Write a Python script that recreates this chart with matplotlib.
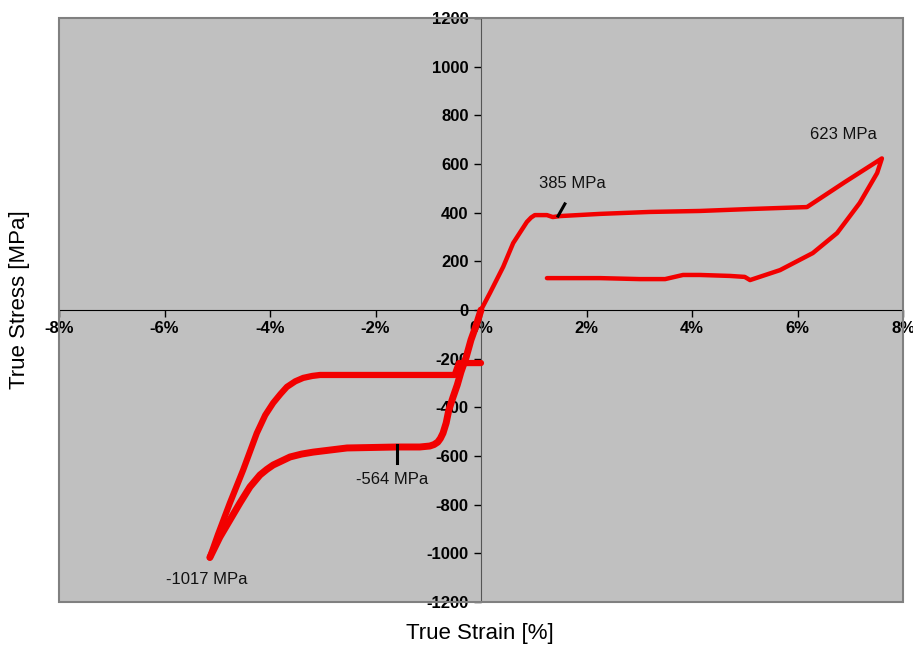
import matplotlib
matplotlib.use('Agg')
import matplotlib.pyplot as plt
from matplotlib.patches import Rectangle
from matplotlib.ticker import FuncFormatter

# tension test: loading, then unloading / recovery (strain %, stress MPa)
tension_strain = [0.0, 0.17, 0.42, 0.61, 0.87, 0.95, 1.02, 1.25, 1.36, 1.50, 2.26, 3.20,
                  4.15, 5.10, 6.18, 6.90, 7.60,
                  7.51, 7.18, 6.75, 6.29, 5.67, 5.10, 5.00, 4.72, 4.15, 3.83,
                  3.49, 3.01, 2.26, 1.25]
tension_stress = [0, 70, 177, 275, 362, 380, 390, 390, 382, 386, 395, 403,
                  407, 415, 423, 526, 623,
                  563, 440, 316, 234, 164, 123, 136, 140, 144, 144,
                  127, 127, 131, 131]

# compression test loading
comp_load_strain = [0.0, -0.09, -0.19, -0.28, -0.38, -0.45, -0.53, -0.61, -0.66, -0.72,
                    -0.77, -0.82, -0.89, -0.97, -1.16, -1.59, -2.54, -3.18, -3.40,
                    -3.62, -3.94, -4.06, -4.19, -4.38, -4.57, -4.76, -4.95, -5.14]
comp_load_stress = [0, -62, -123, -193, -255, -308, -358, -411, -464, -506,
                    -528, -543, -553, -559, -563, -563, -567, -584, -592,
                    -604, -637, -655, -678, -727, -793, -863, -933, -1017]

# compression test unloading
comp_unload_strain = [-5.14, -4.99, -4.76, -4.51, -4.25, -4.09, -3.94, -3.80, -3.68,
                      -3.52, -3.37, -3.20, -3.05, -0.50, -0.42, 0.0]
comp_unload_stress = [-1017, -925, -793, -658, -506, -432, -382, -345, -316,
                      -293, -279, -271, -267, -267, -218, -218]

# labels and their pointer marks
labels = ['385 MPa', '623 MPa', '-564 MPa', '-1017 MPa']
label_x = [1.73, 6.88, -1.69, -5.19]
label_y = [518, 723, -695, -1106]
pointer_x = [[1.46, 1.59], [-1.59, -1.59]]
pointer_y = [[386, 436], [-555, -629]]

x_ticks = [-8, -6, -4, -2, 0, 2, 4, 6, 8]
y_ticks = list(range(-1200, 1201, 200))

red = '#f20000'
font = ['Liberation Sans', 'DejaVu Sans']
plt.rcParams['font.family'] = font

fig = plt.figure(figsize=(9.13, 6.47), dpi=100)
ax = fig.add_axes([59 / 913, 1 - 602 / 647, 844 / 913, 584 / 647])
ax.set_facecolor('#c0c0c0')

ax.plot(tension_strain, tension_stress, color=red, lw=3.2, zorder=3,
        solid_joinstyle='round', solid_capstyle='round')
ax.plot(comp_load_strain, comp_load_stress, color=red, lw=5, zorder=3,
        solid_joinstyle='round', solid_capstyle='round')
ax.plot(comp_unload_strain, comp_unload_stress, color=red, lw=4.5, zorder=3,
        solid_joinstyle='round', solid_capstyle='round')

for px, py in zip(pointer_x, pointer_y):
    ax.plot(px, py, color='black', lw=2.2, zorder=4)
for t, lx, ly in zip(labels, label_x, label_y):
    ax.text(lx, ly, t, fontsize=12, ha='center', va='center', color='#111111')

ax.set_xlim(-8, 8)
ax.set_ylim(-1200, 1200)
ax.set_xticks(x_ticks)
ax.set_yticks(y_ticks)
ax.xaxis.set_major_formatter(FuncFormatter(lambda v, p: f'{v:.0f}%'))
ax.yaxis.set_major_formatter(FuncFormatter(lambda v, p: f'{v:.0f}'))

for side in ['top', 'right']:
    ax.spines[side].set_visible(False)
ax.spines['left'].set_position(('data', 0))
ax.spines['bottom'].set_position(('data', 0))
ax.spines['left'].set_color('#555555')
ax.spines['bottom'].set_color('black')
ax.tick_params(axis='both', direction='out', length=5, width=1, labelsize=12)
ax.tick_params(axis='x', pad=3)
ax.tick_params(axis='y', pad=4)
for lab in ax.get_xticklabels() + ax.get_yticklabels():
    lab.set_fontweight('bold')

ax.add_patch(Rectangle((0, 0), 1, 1, transform=ax.transAxes, fill=False,
                       edgecolor='#808080', lw=1.5, clip_on=False, zorder=5))

fig.text(480 / 913, 1 - 633 / 647, 'True Strain [%]', fontsize=16,
         ha='center', va='center')
fig.text(20 / 913, 1 - 300 / 647, 'True Stress [MPa]', fontsize=16,
         ha='center', va='center', rotation=90)

fig.savefig('out.png', dpi=100)
